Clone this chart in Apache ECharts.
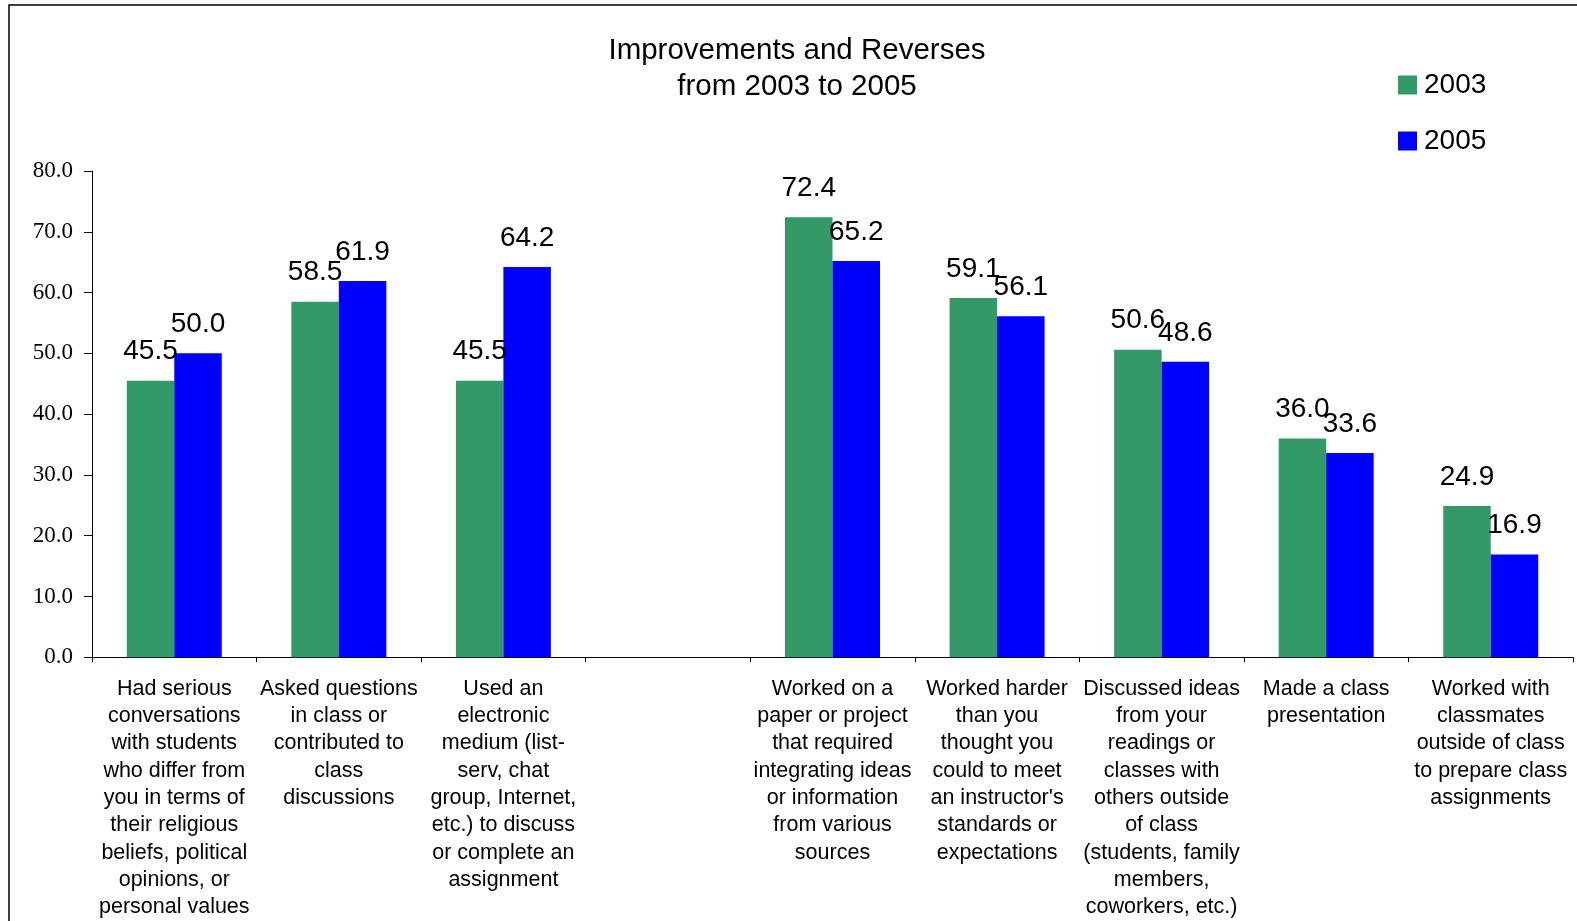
<!DOCTYPE html>
<html>
<head>
<meta charset="utf-8">
<script src="https://cdn.jsdelivr.net/npm/echarts@6/dist/echarts.min.js"></script>
<style>
  html, body { margin: 0; padding: 0; background: #fff; }
  #chart { width: 1577px; height: 921px; }
</style>
</head>
<body>
<div id="chart"></div>
<script>
// Survey items (the blank slot separates improvements from reverses)
const categories = [
  'Had serious\nconversations\nwith students\nwho differ from\nyou in terms of\ntheir religious\nbeliefs, political\nopinions, or\npersonal values',
  'Asked questions\nin class or\ncontributed to\nclass\ndiscussions',
  'Used an\nelectronic\nmedium (list-\nserv, chat\ngroup, Internet,\netc.) to discuss\nor complete an\nassignment',
  '',
  'Worked on a\npaper or project\nthat required\nintegrating ideas\nor information\nfrom various\nsources',
  'Worked harder\nthan you\nthought you\ncould to meet\nan instructor\'s\nstandards or\nexpectations',
  'Discussed ideas\nfrom your\nreadings or\nclasses with\nothers outside\nof class\n(students, family\nmembers,\ncoworkers, etc.)',
  'Made a class\npresentation',
  'Worked with\nclassmates\noutside of class\nto prepare class\nassignments'
];
const values2003 = [45.5, 58.5, 45.5, null, 72.4, 59.1, 50.6, 36.0, 24.9];
const values2005 = [50.0, 61.9, 64.2, null, 65.2, 56.1, 48.6, 33.6, 16.9];
const yTicks = { min: 0, max: 80, interval: 10 };

const chart = echarts.init(document.getElementById('chart'), null, { renderer: 'canvas' });

const sans = 'Arial, "Liberation Sans", Helvetica, sans-serif';
const serif = '"Times New Roman", "Liberation Serif", serif';

const valueLabel = {
  show: true,
  position: 'top',
  distance: 15,
  color: '#000',
  fontFamily: sans,
  fontSize: 28,
  formatter: p => (p.value == null ? '' : Number(p.value).toFixed(1))
};

chart.setOption({
  backgroundColor: '#fff',
  animation: false,
  graphic: [{
    type: 'rect',
    shape: { x: 9, y: 5, width: 1700, height: 1100 },
    style: { fill: 'none', stroke: '#000', lineWidth: 1.5 },
    silent: true,
    z: -1
  }],
  title: {
    text: 'Improvements and Reverses\nfrom 2003 to 2005',
    left: 792,
    top: 28,
    textAlign: 'center',
    textStyle: {
      fontFamily: sans,
      fontSize: 29.5,
      lineHeight: 36,
      fontWeight: 'normal',
      color: '#000'
    }
  },
  legend: {
    orient: 'vertical',
    left: 1393,
    top: 66,
    itemWidth: 19,
    itemHeight: 19,
    itemGap: 28,
    icon: 'rect',
    textStyle: { fontFamily: sans, fontSize: 28, lineHeight: 28, color: '#000', padding: [0, 0, 0, 2] },
    data: ['2003', '2005']
  },
  grid: { left: 92, right: 4, top: 171, bottom: 263, containLabel: false },
  xAxis: {
    type: 'category',
    data: categories,
    axisLine: { lineStyle: { color: '#000', width: 1 } },
    axisTick: { show: true, length: 5, lineStyle: { color: '#000' } },
    axisLabel: {
      interval: 0,
      margin: 18,
      color: '#000',
      fontFamily: sans,
      fontSize: 21.5,
      lineHeight: 27.3,
      align: 'center'
    },
    splitLine: { show: false }
  },
  yAxis: {
    type: 'value',
    min: yTicks.min,
    max: yTicks.max,
    interval: yTicks.interval,
    axisLine: { show: true, lineStyle: { color: '#000', width: 1 } },
    axisTick: { show: true, length: 8, lineStyle: { color: '#000' } },
    axisLabel: {
      margin: 19,
      color: '#000',
      fontFamily: serif,
      fontSize: 23,
      formatter: v => v.toFixed(1)
    },
    splitLine: { show: false }
  },
  series: [
    {
      name: '2003',
      type: 'bar',
      data: values2003,
      barWidth: 47.5,
      barGap: '0%',
      itemStyle: { color: '#339966' },
      label: valueLabel
    },
    {
      name: '2005',
      type: 'bar',
      data: values2005,
      barWidth: 47.5,
      barGap: '0%',
      itemStyle: { color: '#0000FF' },
      label: valueLabel
    }
  ]
});
</script>
</body>
</html>
